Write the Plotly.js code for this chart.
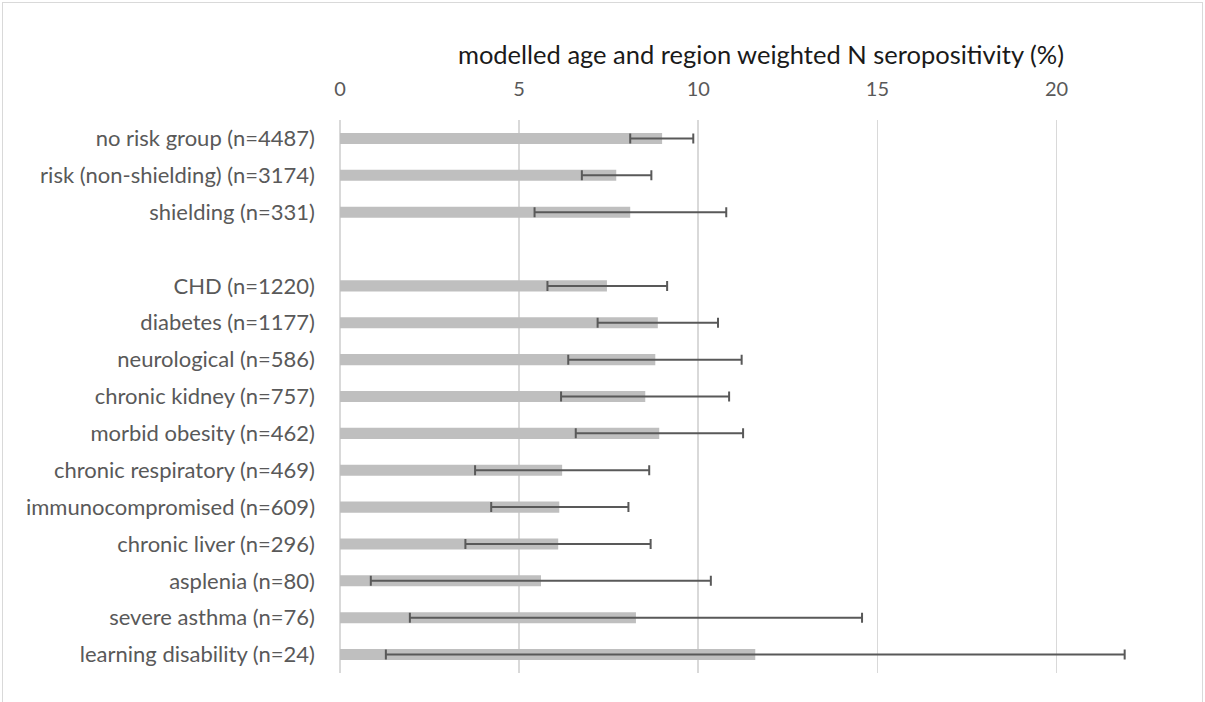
<!DOCTYPE html>
<html>
<head>
<meta charset="utf-8">
<script src="https://cdn.plot.ly/plotly-3.0.1.min.js"></script>
<style>
  html, body { margin: 0; padding: 0; background: #fff; }
  #frame { position: absolute; left: 2px; top: 2px; width: 1201px; height: 720px; border: 1px solid #d9d9d9; box-sizing: border-box; }
  #chart { position: absolute; left: 0; top: 0; width: 1205px; height: 702px; }
</style>
</head>
<body>
<div id="frame"></div>
<div id="chart"></div>
<script>
const categories = [
  "no risk group (n=4487)",
  "risk (non-shielding) (n=3174)",
  "shielding (n=331)",
  " ",
  "CHD (n=1220)",
  "diabetes (n=1177)",
  "neurological (n=586)",
  "chronic kidney (n=757)",
  "morbid obesity (n=462)",
  "chronic respiratory (n=469)",
  "immunocompromised (n=609)",
  "chronic liver (n=296)",
  "asplenia (n=80)",
  "severe asthma (n=76)",
  "learning disability (n=24)"
];
const seropositivity = [8.99, 7.71, 8.10, null, 7.45, 8.87, 8.80, 8.52, 8.91, 6.20, 6.12, 6.09, 5.61, 8.26, 11.59];
const lowerCI =        [8.10, 6.75, 5.43, null, 5.79, 7.19, 6.37, 6.17, 6.58, 3.77, 4.22, 3.50, 0.86, 1.95, 1.28];
const upperCI =        [9.86, 8.69, 10.78, null, 9.13, 10.55, 11.21, 10.86, 11.25, 8.63, 8.05, 8.67, 10.35, 14.57, 21.90];
const xTickValues = [0, 5, 10, 15, 20];

const errPlus = seropositivity.map((v, i) => v === null ? null : upperCI[i] - v);
const errMinus = seropositivity.map((v, i) => v === null ? null : v - lowerCI[i]);

const trace = {
  type: 'bar',
  orientation: 'h',
  y: categories,
  x: seropositivity,
  width: 0.3,
  marker: { color: '#bfbfbf' },
  error_x: {
    type: 'data',
    symmetric: false,
    array: errPlus,
    arrayminus: errMinus,
    color: '#595959',
    thickness: 2,
    width: 5
  },
  hoverinfo: 'x+y'
};

const layout = {
  width: 1205,
  height: 702,
  paper_bgcolor: 'rgba(0,0,0,0)',
  plot_bgcolor: 'rgba(0,0,0,0)',
  margin: { l: 340, r: 23, t: 120, b: 29 },
  font: { family: 'Lato, sans-serif', color: '#595959', size: 21 },
  showlegend: false,
  xaxis: {
    side: 'top',
    range: [0, 23.5],
    tickvals: xTickValues,
    ticktext: xTickValues.map(String),
    showgrid: true,
    gridcolor: '#d9d9d9',
    gridwidth: 1.6,
    zeroline: true,
    zerolinecolor: '#d9d9d9',
    zerolinewidth: 1.6,
    showline: false,
    ticks: '',
    ticklabelstandoff: 19,
    tickfont: { size: 20, color: '#595959' },
    title: {
      text: 'modelled age and region weighted N seropositivity (%)',
      font: { size: 25.5, color: '#1a1a1a' },
      standoff: 4
    },
    fixedrange: true
  },
  yaxis: {
    type: 'category',
    categoryorder: 'array',
    categoryarray: categories,
    autorange: 'reversed',
    showgrid: false,
    zeroline: false,
    showline: false,
    ticks: '',
    ticklabelstandoff: 24,
    tickfont: { size: 22, color: '#595959' },
    fixedrange: true
  }
};

Plotly.newPlot('chart', [trace], layout, { displayModeBar: false, staticPlot: true });
</script>
</body>
</html>
